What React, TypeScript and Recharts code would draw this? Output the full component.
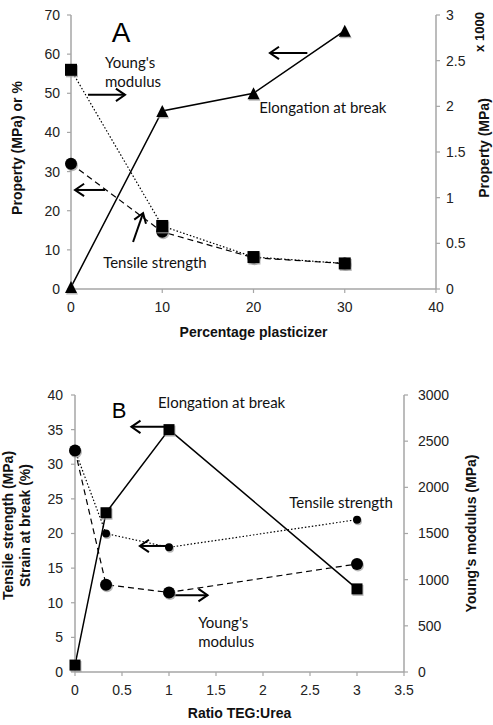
import React from 'react';
import { ComposedChart, Line, XAxis, YAxis, ReferenceLine, ReferenceDot, Label } from 'recharts';

// ---- Panel A data ----
const plasticizerPct = [0, 10, 20, 30];
const youngsModulusA = [2.4, 0.69, 0.35, 0.28]; // x 1000 MPa (right axis)
const tensileStrengthA = [32, 14.6, 8, 6.5];
const elongationA = [0.5, 45.5, 50, 66];
const xTicksA = [0, 10, 20, 30, 40];
const leftTicksA = [0, 10, 20, 30, 40, 50, 60, 70];
const rightTicksA = [0, 0.5, 1, 1.5, 2, 2.5, 3];

// ---- Panel B data ----
const ratioTegUrea = [0, 0.33, 1, 3];
const elongationB = [1, 23, 35, 12];
const tensileStrengthB = [32, 20, 18, 22];
const youngsModulusB = [2400, 945, 862, 1170];
const xTicksB = [0, 0.5, 1, 1.5, 2, 2.5, 3, 3.5];
const leftTicksB = [0, 5, 10, 15, 20, 25, 30, 35, 40];
const rightTicksB = [0, 500, 1000, 1500, 2000, 2500, 3000];

const dataA = plasticizerPct.map((x, i) => ({ x, ym: youngsModulusA[i], ts: tensileStrengthA[i], el: elongationA[i] }));
const dataB = ratioTegUrea.map((x, i) => ({ x, el: elongationB[i], ts: tensileStrengthB[i], ym: youngsModulusB[i] }));

const AXIS = '#a6a6a6';
const TICK_FONT = { fill: '#222', fontSize: 14, fontFamily: 'Liberation Sans, Arial, sans-serif' };
const TITLE_FONT = { fill: '#111', fontSize: 14, fontWeight: 700, fontFamily: 'Liberation Sans, Arial, sans-serif' } as const;
const NOTE_FONT = { fill: '#111', fontSize: 15, fontFamily: 'Lato, "Open Sans", sans-serif' } as const;

const square = (size: number) => (p: any) => {
  if (p.cx == null || p.cy == null) return <g key={p.index} />;
  const h = size / 2;
  return (
    <g key={`sq-${p.index}`}>
      <rect x={p.cx - h + 1} y={p.cy - h + 1.5} width={size} height={size} fill="#9a9a9a" opacity={0.7} />
      <rect x={p.cx - h} y={p.cy - h} width={size} height={size} fill="#000" />
    </g>
  );
};
const circle = (r: number) => (p: any) => {
  if (p.cx == null || p.cy == null) return <g key={p.index} />;
  return (
    <g key={`c-${p.index}`}>
      <circle cx={p.cx + 1} cy={p.cy + 1.5} r={r} fill="#9a9a9a" opacity={0.7} />
      <circle cx={p.cx} cy={p.cy} r={r} fill="#000" />
    </g>
  );
};
const triangle = (size: number) => (p: any) => {
  if (p.cx == null || p.cy == null) return <g key={p.index} />;
  const h = size / 2;
  const pts = (dx: number, dy: number) =>
    `${p.cx + dx},${p.cy - h + dy} ${p.cx + h + dx},${p.cy + h + dy} ${p.cx - h + dx},${p.cy + h + dy}`;
  return (
    <g key={`t-${p.index}`}>
      <polygon points={pts(1, 1.5)} fill="#9a9a9a" opacity={0.7} />
      <polygon points={pts(0, 0)} fill="#000" />
    </g>
  );
};

const Arrow = (p: any) => {
  const { x1, y1, x2, y2 } = p;
  if ([x1, y1, x2, y2].some((v) => v == null || isNaN(v))) return <g />;
  const ang = Math.atan2(y2 - y1, x2 - x1);
  const L = 11;
  const W = 0.6;
  const ax = x2 - L * Math.cos(ang - W);
  const ay = y2 - L * Math.sin(ang - W);
  const bx = x2 - L * Math.cos(ang + W);
  const by = y2 - L * Math.sin(ang + W);
  return (
    <g>
      <line x1={x1} y1={y1} x2={x2} y2={y2} stroke="#000" strokeWidth={2} />
      <polyline points={`${ax},${ay} ${x2},${y2} ${bx},${by}`} fill="none" stroke="#000" strokeWidth={2} />
    </g>
  );
};

const textShape = (lines: string[], anchor: 'start' | 'middle' | 'end', style: any, lineGap = 19) => (p: any) => (
  <text x={p.cx} y={p.cy} textAnchor={anchor} style={style}>
    {lines.map((l, i) => (
      <tspan key={i} x={p.cx} dy={i === 0 ? 0 : lineGap}>
        {l}
      </tspan>
    ))}
  </text>
);

const axisCommon = {
  axisLine: { stroke: AXIS, strokeWidth: 1.5 },
  tickLine: { stroke: AXIS, strokeWidth: 1.2 },
  tickSize: 4,
  tick: TICK_FONT,
};

function PanelA() {
  return (
    <ComposedChart width={493} height={360} data={dataA} margin={{ top: 15, right: 0, bottom: 0, left: 0 }}>
      <XAxis
        type="number"
        dataKey="x"
        domain={[0, 40]}
        ticks={xTicksA}
        height={71}
        tickMargin={9}
        {...axisCommon}
      >
        <Label
          content={(lp: any) => {
            const vb = lp.viewBox || {};
            return (
              <text x={vb.x + vb.width / 2} y={vb.y + 48} textAnchor="middle" style={TITLE_FONT}>
                Percentage plasticizer
              </text>
            );
          }}
        />
      </XAxis>
      <YAxis
        yAxisId="left"
        orientation="left"
        domain={[0, 70]}
        ticks={leftTicksA}
        width={71}
        tickMargin={7}
        {...axisCommon}
      >
        <Label
          content={(lp: any) => {
            const vb = lp.viewBox || {};
            const cy = vb.y + vb.height / 2 - 4;
            return (
              <text transform={`translate(${vb.x + 22},${cy}) rotate(-90)`} textAnchor="middle" style={TITLE_FONT}>
                Property (MPa) or %
              </text>
            );
          }}
        />
      </YAxis>
      <YAxis
        yAxisId="right"
        orientation="right"
        domain={[0, 3]}
        ticks={rightTicksA}
        width={57}
        tickMargin={6}
        tickFormatter={(v: number) => String(v)}
        {...axisCommon}
      >
        <Label
          content={(lp: any) => {
            const vb = lp.viewBox || {};
            return (
              <g>
                <text transform={`translate(${vb.x + 53},${vb.y + 133}) rotate(-90)`} textAnchor="middle" style={TITLE_FONT}>
                  Property (MPa)
                </text>
                <text transform={`translate(${vb.x + 48},${vb.y + 17}) rotate(-90)`} textAnchor="middle" style={{ ...TITLE_FONT, fontSize: 13 }}>
                  x 1000
                </text>
              </g>
            );
          }}
        />
      </YAxis>

      <Line yAxisId="left" dataKey="ts" type="linear" stroke="#000" strokeWidth={1.2} strokeDasharray="6 4" dot={circle(6)} activeDot={false} isAnimationActive={false} />
      <Line yAxisId="right" dataKey="ym" type="linear" stroke="#000" strokeWidth={1.2} strokeDasharray="1.5 2" dot={square(12)} activeDot={false} isAnimationActive={false} />
      <Line yAxisId="left" dataKey="el" type="linear" stroke="#000" strokeWidth={1.5} dot={triangle(12)} activeDot={false} isAnimationActive={false} />

      <ReferenceLine yAxisId="left" segment={[{ x: 1.86, y: 49.6 }, { x: 5.92, y: 49.6 }]} shape={Arrow} />
      <ReferenceLine yAxisId="left" segment={[{ x: 25.9, y: 60.3 }, { x: 21.8, y: 60.3 }]} shape={Arrow} />
      <ReferenceLine yAxisId="left" segment={[{ x: 3.73, y: 25.3 }, { x: 0.44, y: 25.3 }]} shape={Arrow} />
      <ReferenceLine yAxisId="left" segment={[{ x: 6.8, y: 12 }, { x: 7.9, y: 19.4 }]} shape={Arrow} />

      <ReferenceDot yAxisId="left" x={5.5} y={63.1} shape={textShape(['A'], 'middle', { fill: '#000', fontSize: 28, fontFamily: 'Liberation Sans, Arial, sans-serif' })} />
      <ReferenceDot yAxisId="left" x={3.73} y={56.5} shape={textShape(["Young's", 'modulus'], 'start', NOTE_FONT)} />
      <ReferenceDot yAxisId="left" x={27.6} y={45.0} shape={textShape(['Elongation at break'], 'middle', NOTE_FONT)} />
      <ReferenceDot yAxisId="left" x={9.2} y={5.4} shape={textShape(['Tensile strength'], 'middle', NOTE_FONT)} />
    </ComposedChart>
  );
}

function PanelB() {
  return (
    <ComposedChart width={493} height={360} data={dataB} margin={{ top: 30, right: 0, bottom: 0, left: 0 }}>
      <XAxis
        type="number"
        dataKey="x"
        domain={[0, 3.5]}
        ticks={xTicksB}
        height={53}
        tickMargin={9}
        tickFormatter={(v: number) => String(v)}
        {...axisCommon}
      >
        <Label
          content={(lp: any) => {
            const vb = lp.viewBox || {};
            return (
              <text x={vb.x + vb.width / 2} y={vb.y + 46} textAnchor="middle" style={TITLE_FONT}>
                Ratio TEG:Urea
              </text>
            );
          }}
        />
      </XAxis>
      <YAxis
        yAxisId="left"
        orientation="left"
        domain={[0, 40]}
        ticks={leftTicksB}
        width={75}
        tickMargin={8}
        {...axisCommon}
      >
        <Label
          content={(lp: any) => {
            const vb = lp.viewBox || {};
            const cy = vb.y + vb.height / 2 - 8;
            return (
              <g>
                <text transform={`translate(${vb.x + 13},${cy}) rotate(-90)`} textAnchor="middle" style={TITLE_FONT}>
                  Tensile strength (MPa)
                </text>
                <text transform={`translate(${vb.x + 30},${cy}) rotate(-90)`} textAnchor="middle" style={TITLE_FONT}>
                  Strain at break (%)
                </text>
              </g>
            );
          }}
        />
      </YAxis>
      <YAxis
        yAxisId="right"
        orientation="right"
        domain={[0, 3000]}
        ticks={rightTicksB}
        width={89}
        tickMargin={10}
        {...axisCommon}
      >
        <Label
          content={(lp: any) => {
            const vb = lp.viewBox || {};
            return (
              <text transform={`translate(${vb.x + 72},${vb.y + vb.height / 2}) rotate(-90)`} textAnchor="middle" style={TITLE_FONT}>
                Young's modulus (MPa)
              </text>
            );
          }}
        />
      </YAxis>

      <Line yAxisId="left" dataKey="el" type="linear" stroke="#000" strokeWidth={1.5} dot={square(11)} activeDot={false} isAnimationActive={false} />
      <Line yAxisId="left" dataKey="ts" type="linear" stroke="#000" strokeWidth={1.2} strokeDasharray="1.5 2" dot={circle(4)} activeDot={false} isAnimationActive={false} />
      <Line yAxisId="right" dataKey="ym" type="linear" stroke="#000" strokeWidth={1.2} strokeDasharray="6 4" dot={circle(6)} activeDot={false} isAnimationActive={false} />

      <ReferenceLine yAxisId="left" segment={[{ x: 0.98, y: 35.4 }, { x: 0.6, y: 35.4 }]} shape={Arrow} />
      <ReferenceLine yAxisId="left" segment={[{ x: 0.99, y: 18.2 }, { x: 0.69, y: 18.2 }]} shape={Arrow} />
      <ReferenceLine yAxisId="left" segment={[{ x: 1.01, y: 11.1 }, { x: 1.41, y: 11.1 }]} shape={Arrow} />

      <ReferenceDot yAxisId="left" x={0.47} y={36.7} shape={textShape(['B'], 'middle', { fill: '#000', fontSize: 22, fontFamily: 'Liberation Sans, Arial, sans-serif' })} />
      <ReferenceDot yAxisId="left" x={1.56} y={38.1} shape={textShape(['Elongation at break'], 'middle', NOTE_FONT)} />
      <ReferenceDot yAxisId="left" x={2.83} y={23.7} shape={textShape(['Tensile strength'], 'middle', NOTE_FONT)} />
      <ReferenceDot yAxisId="left" x={1.31} y={6.35} shape={textShape(["Young's", 'modulus'], 'start', NOTE_FONT)} />
    </ComposedChart>
  );
}

export default function App() {
  return (
    <div style={{ position: 'absolute', left: 0, top: 0, width: 493, height: 725, background: '#fff', overflow: 'hidden' }}>
      <div style={{ position: 'absolute', left: 0, top: 0 }}>
        <PanelA />
      </div>
      <div style={{ position: 'absolute', left: 0, top: 365 }}>
        <PanelB />
      </div>
    </div>
  );
}
